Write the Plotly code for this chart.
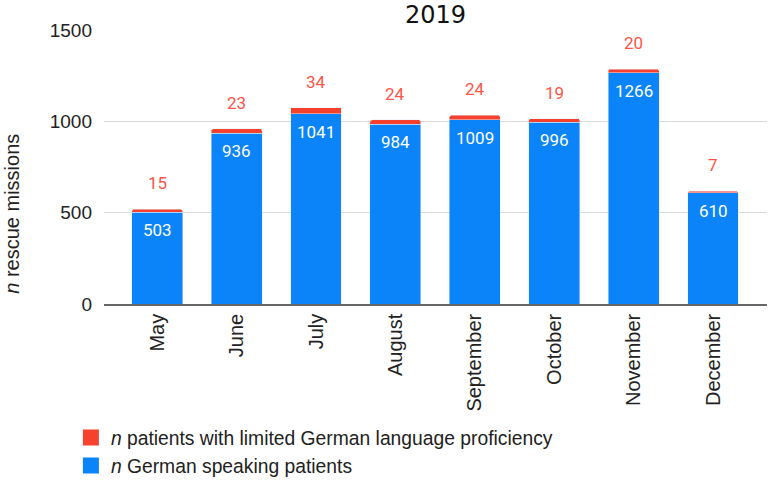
import plotly.graph_objects as go

months = ["May", "June", "July", "August", "September", "October", "November", "December"]
german_speaking = [503, 936, 1041, 984, 1009, 996, 1266, 610]
limited_german = [15, 23, 34, 24, 24, 19, 20, 7]

BLUE = "#0a84f8"
RED = "#f6412f"
TXT = "#222"

totals = [g + l for g, l in zip(german_speaking, limited_german)]

fig = go.Figure()
fig.add_trace(go.Bar(x=months, y=german_speaking, marker_color=BLUE, width=0.64,
                     showlegend=False))
fig.add_trace(go.Bar(x=months, y=limited_german, marker_color=RED, width=0.64,
                     showlegend=False))

# legend entries with bigger square swatches
fig.add_trace(go.Scatter(x=[None], y=[None], mode="markers",
                         marker=dict(symbol="square", size=16, color=RED),
                         name="<i>n</i> patients with limited German language proficiency"))
fig.add_trace(go.Scatter(x=[None], y=[None], mode="markers",
                         marker=dict(symbol="square", size=16, color=BLUE),
                         name="<i>n</i> German speaking patients"))

# value labels: white inside the blue bar top, red above the stack
for m, g, t, l in zip(months, german_speaking, totals, limited_german):
    fig.add_annotation(x=m, y=g, text=str(g), showarrow=False, yanchor="top", yshift=-6,
                       font=dict(family="Roboto", size=17, color="white"))
    fig.add_annotation(x=m, y=t, text=str(l), showarrow=False, yanchor="bottom", yshift=14,
                       font=dict(family="Roboto", size=17, color="#ff5447"))

fig.add_annotation(text="<i>n</i> rescue missions", textangle=-90, showarrow=False,
                   xref="paper", yref="paper", x=-0.14, y=0.33, xanchor="center", yanchor="middle",
                   font=dict(size=20, color=TXT))

fig.update_layout(
    width=779, height=482,
    barmode="stack",
    barcornerradius=2,
    plot_bgcolor="white", paper_bgcolor="white",
    margin=dict(l=104, r=12, t=30, b=178, autoexpand=False),
    title=dict(text="2019", x=0.5, xref="paper", xanchor="center", y=1 - 15 / 482,
               yanchor="middle", font=dict(family="DejaVu Sans", size=24, color="#111")),
    font=dict(family="Liberation Sans, Arial", color=TXT),
    legend=dict(orientation="v", xref="container", yref="container", x=0.091, y=0.132,
                xanchor="left", yanchor="top", font=dict(size=19.3, color=TXT),
                itemwidth=30, tracegroupgap=0, traceorder="normal"),
    xaxis=dict(range=[-0.67, 7.68], tickangle=-90, tickfont=dict(size=20, color=TXT),
               showline=True, linecolor="#666", linewidth=1.5, ticks="", automargin=False),
    yaxis=dict(range=[0, 1500], tickvals=[0, 500, 1000, 1500], gridcolor="#d9d9d9",
               tickfont=dict(size=19, color=TXT), zeroline=False, automargin=False,
               ticklabelstandoff=11),
)

fig.write_html("out.html", config={"displayModeBar": False},
               post_script="document.body.style.margin='0px';")
